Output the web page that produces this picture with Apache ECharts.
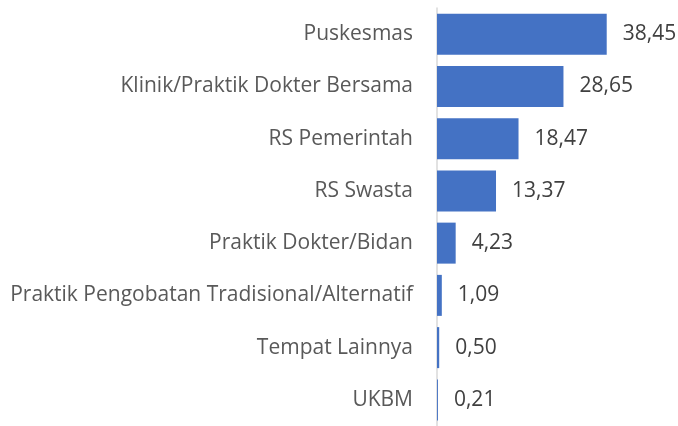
<!DOCTYPE html>
<html>
<head>
<meta charset="utf-8">
<script src="https://cdn.jsdelivr.net/npm/echarts@6/dist/echarts.min.js"></script>
<style>
  html, body { margin: 0; padding: 0; background: #fff; }
  #chart { width: 678px; height: 426px; }
</style>
</head>
<body>
<div id="chart"></div>
<script>
  // data, top to bottom as shown
  var categories = [
    'Puskesmas',
    'Klinik/Praktik Dokter Bersama',
    'RS Pemerintah',
    'RS Swasta',
    'Praktik Dokter/Bidan',
    'Praktik Pengobatan Tradisional/Alternatif',
    'Tempat Lainnya',
    'UKBM'
  ]
  var values = [38.45, 28.65, 18.47, 13.37, 4.23, 1.09, 0.50, 0.21]

  var chart = echarts.init(document.getElementById('chart'), null, {renderer: 'canvas'})
  var font = 'Open Sans'

  chart.setOption({
    animation: false,
    grid: {
      left: 437,
      top: 8,
      width: 220.7,
      height: 426,
      containLabel: false
    },
    xAxis: {
      type: 'value',
      min: 0,
      max: 50,
      show: false
    },
    yAxis: {
      type: 'category',
      inverse: true,
      data: categories,
      axisLine: {show: true, lineStyle: {color: '#d9d9d9', width: 1.5}},
      axisTick: {show: false},
      axisLabel: {
        margin: 24,
        color: '#595959',
        fontFamily: font,
        fontSize: 21
      }
    },
    series: [
      {
        type: 'bar',
        data: values,
        barWidth: 41,
        itemStyle: {color: '#4472c4'},
        label: {
          show: true,
          position: 'right',
          distance: 16,
          color: '#404040',
          fontFamily: font,
          fontSize: 21,
          formatter: function (p) {
            return p.value.toFixed(2).replace('.', ',')
          }
        }
      }
    ]
  })
</script>
</body>
</html>
